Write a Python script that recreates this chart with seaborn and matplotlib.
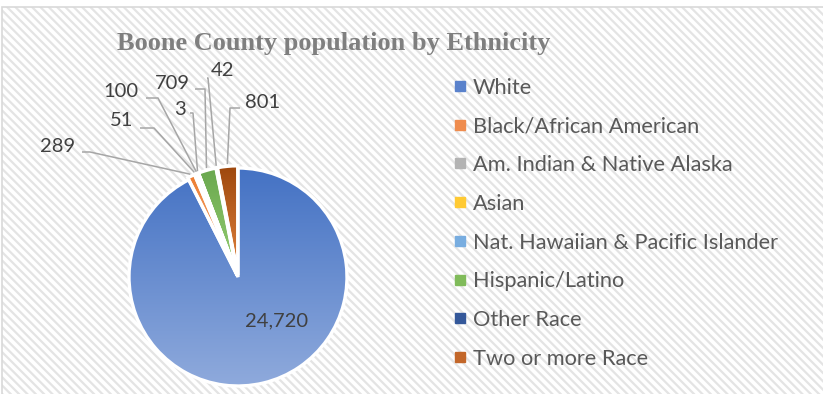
import numpy as np
import pandas as pd
import matplotlib
matplotlib.use("Agg")
import matplotlib.pyplot as plt
import seaborn as sns
from matplotlib.patches import Rectangle, Wedge
from matplotlib.lines import Line2D
from matplotlib.colors import to_rgb

# ---------------- data ----------------
categories = ["White", "Black/African American", "Am. Indian & Native Alaska", "Asian",
              "Nat. Hawaiian & Pacific Islander", "Hispanic/Latino", "Other Race",
              "Two or more Race"]
population = [24720, 289, 51, 100, 3, 709, 42, 801]
value_labels = ["24,720", "289", "51", "100", "3", "709", "42", "801"]
title = "Boone County population by Ethnicity"

df = pd.DataFrame({"ethnicity": categories, "population": population, "label": value_labels})

# ---------------- style ----------------
top_colors = ["#4472c4", "#ed7d31", "#a5a5a5", "#ffc000", "#5b9bd5", "#6aa84f", "#264478", "#9e480e"]
bottom_colors = ["#8faadc", "#f4b183", "#c9c9c9", "#ffd966", "#9dc3e6", "#97cf72", "#5f7fbf", "#e3843f"]
legend_colors = ["#5a82cc", "#ef8c4e", "#b3b3b3", "#ffca33", "#78ade0", "#80bb5a", "#34589a", "#c3672a"]

sns.set_theme(style="white")
plt.rcParams["font.family"] = ["Lato", "DejaVu Sans"]
plt.rcParams["hatch.linewidth"] = 1.6

W, H = 823, 394
fig = plt.figure(figsize=(W / 100, H / 100), dpi=100)
fig.patch.set_facecolor("white")

# hatched chart background and border
bx0, btop = 1.5, 7.5
bg = Rectangle((bx0 / W, -0.1), 1.2, (H - btop) / H + 0.1, transform=fig.transFigure,
               facecolor="white", edgecolor="#e4e4e4", hatch="\\\\\\\\", linewidth=0, zorder=-5)
fig.patches.append(bg)
border = Rectangle((bx0 / W, -0.1), 1.2, (H - btop) / H + 0.1, transform=fig.transFigure,
                   facecolor="none", edgecolor="#d9d9d9", linewidth=1.2, zorder=-4)
fig.patches.append(border)

# pie axes: centre (238, 277) px from top, radius 109 px
cx, cy, R, half = 238, H - 277, 109, 170
ax = fig.add_axes([(cx - half) / W, (cy - half) / H, 2 * half / W, 2 * half / H])
ax.patch.set_alpha(0)

explode = [0 if v == max(population) else 0.02 for v in df["population"]]
wedges, _ = ax.pie(df["population"], startangle=90, counterclock=False, explode=explode,
                   colors=top_colors, radius=1,
                   wedgeprops=dict(linewidth=0, edgecolor="white"))
lim = half / R
ax.set_xlim(-lim, lim)
ax.set_ylim(-lim, lim)
ax.set_aspect("equal")
ax.axis("off")

# gradient fill clipped to each wedge, white edge on top
g = np.linspace(0, 1, 256)[:, None, None]
for w, tc, bc in zip(wedges, top_colors, bottom_colors):
    ext = w.get_path().get_extents()
    img = np.array(to_rgb(tc))[None, None, :] * (1 - g) + np.array(to_rgb(bc))[None, None, :] * g
    im = ax.imshow(img, extent=(ext.x0, ext.x1, ext.y0, ext.y1), origin="upper",
                   aspect="auto", interpolation="bilinear", zorder=2)
    im.set_clip_path(w)
    ax.add_patch(Wedge(w.center, w.r, w.theta1, w.theta2, facecolor="none",
                       edgecolor="white", linewidth=2.4, zorder=3))
ax.set_xlim(-lim, lim)
ax.set_ylim(-lim, lim)

inv = ax.transData.inverted()


def px(x, y):
    return inv.transform((x, H - y))


# label layout (pixel positions from top-left): text centre, line start, knee
layout = {
    1: ((58, 147), (82, 152), (90, 152)),
    2: ((122, 121), (140, 128), (154, 128)),
    3: ((121, 92), (146, 98), (158, 98)),
    4: ((180, 110), (190, 113), (193, 113)),
    5: ((172, 84), (195, 89), (205, 89)),
    6: ((223, 71), (207, 78), (208, 78)),
    7: ((263, 103), (240, 108), (230, 108)),
}
label_color = "#404040"
for i, (tpos, lstart, knee) in layout.items():
    w = wedges[i]
    mid = np.deg2rad((w.theta1 + w.theta2) / 2)
    tx, ty = w.center[0] + 1.02 * np.cos(mid), w.center[1] + 1.02 * np.sin(mid)
    p1, p2 = px(*lstart), px(*knee)
    ax.plot([p1[0], p2[0], tx], [p1[1], p2[1], ty], color="#a6a6a6", lw=1.1,
            clip_on=False, zorder=4, solid_capstyle="butt")
    lx, ly = px(*tpos)
    ax.text(lx, ly, df["label"][i], ha="center", va="center", fontsize=14.5,
            color=label_color, clip_on=False)

wx, wy = px(277, 321)
ax.text(wx, wy, df["label"][0], ha="center", va="center", fontsize=14.5, color=label_color)

# title
fig.text(334 / W, (H - 50) / H, title, ha="center", va="baseline",
         family=["Liberation Serif", "DejaVu Serif"], weight="bold", fontsize=19,
         color="#7f7f7f")

# legend
handles = [Line2D([], [], marker="s", linestyle="", markersize=6.5,
                  markerfacecolor=c, markeredgecolor=c) for c in legend_colors]
fig.legend(handles, categories, loc="upper left", bbox_to_anchor=(453.5 / W, (H - 77.5) / H),
           frameon=False, fontsize=15.7, labelcolor="#595959", handlelength=0.6,
           handletextpad=0.3, labelspacing=0.86, borderpad=0, borderaxespad=0)

fig.savefig("out.png", dpi=100, facecolor="white")
